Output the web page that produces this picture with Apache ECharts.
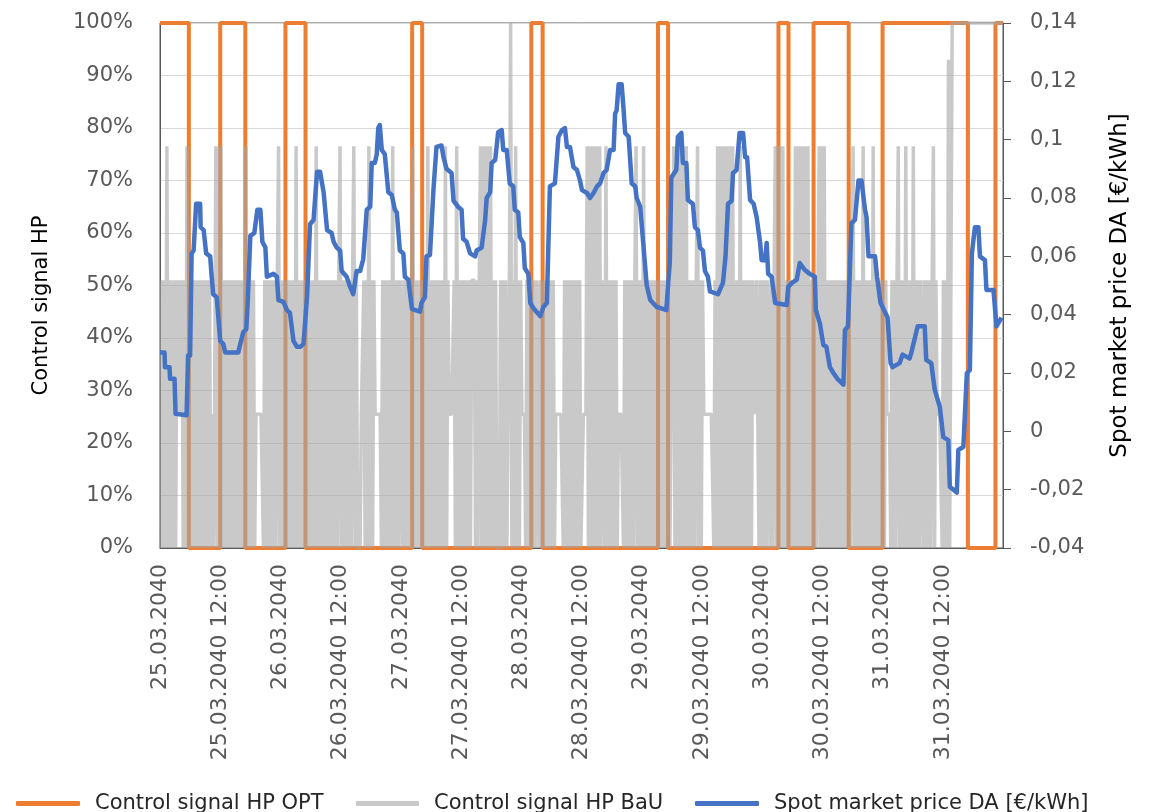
<!DOCTYPE html>
<html>
<head>
<meta charset="utf-8">
<script src="https://cdn.jsdelivr.net/npm/echarts@6/dist/echarts.min.js"></script>
<style>
html,body{margin:0;padding:0;background:#fff;}
#chart{width:1158px;height:812px;}
</style>
</head>
<body>
<div id="chart"></div>
<script>
// ---------- data ----------
// x-axis: hours since 25.03.2040 00:00
const tickLabels = ['25.03.2040','25.03.2040 12:00','26.03.2040','26.03.2040 12:00',
  '27.03.2040','27.03.2040 12:00','28.03.2040','28.03.2040 12:00','29.03.2040',
  '29.03.2040 12:00','30.03.2040','30.03.2040 12:00','31.03.2040','31.03.2040 12:00'];

// Control signal HP OPT: switching hours and the state that starts there
const optHours  = [0, 5.75, 12, 17, 25, 29, 50.25, 52.25, 74, 76.25, 99.25, 101.25, 123.25, 125.25, 130.25, 137.25, 144, 161, 166.5, 168];
const optStates = [1, 0,    1,  0,  1,  0,  1,     0,     1,  0,     1,     0,      1,      0,      1,      0,      1,   0,   1,     1];

// Control signal HP BaU: quarter-hour level codes, one string per 12 hours
const bauLevels = [0, 0.255, 0.51, 0.765, 1, 0.93];
const bauCodes = [
  '0202'+'030'+'2020202'+'1212'+'020'+'3'+'020202020202020202'+'0101'+'3030',
  '30'+'202020202020202020'+'3'+'0202020'+'111111'+'020202020202'+'3'+'0',
  '202020202020'+'3'+'020202020202020'+'3'+'020202020202020202'+'3',
  '0202020202'+'3'+'020'+'0011'+'2020'+'3'+'0202'+'11111'+'020202020'+'3'+'020202',
  '202020202'+'3'+'02020202020'+'3'+'0202020202020'+'3'+'02'+'1111'+'20'+'3'+'020',
  '202020202'+'22'+'0202'+'303030303'+'02020'+'00'+'202020'+'0'+'2'+'4'+'020'+'3'+'0202',
  '111'+'020202020'+'22'+'0202020202020'+'111111'+'020202020202020',
  '0'+'111'+'303030303030'+'020'+'3'+'020202020'+'1111'+'0202020202'+'3'+'0202',
  '0'+'3'+'020202020202020202020'+'11'+'303030303030'+'2020202'+'3'+'020',
  '2'+'11111111'+'020'+'3030303030303'+'02020'+'3'+'0202020202'+'2121'+'020',
  '2020'+'22'+'0202'+'3030303'+'020202020'+'303030303030'+'2020202'+'303',
  '03'+'0202020202020202020202'+'3'+'0202020'+'3'+'0202020'+'3'+'0202020',
  '202'+'111'+'020202'+'3'+'02020'+'3'+'02020'+'3'+'02020'+'22'+'02020202'+'3'+'02'+'1111'+'0',
  '2020'+'5'+'02'+'44444444444444444444444444444444444444444'
];

// Spot market price DA [€/kWh]: traced vertices (hour, price)
const priceHours = [0.0,0.9,1.0,1.9,2.0,2.9,3.1,5.3,5.6,6.0,6.3,6.7,7.2,8.0,8.1,8.7,9.2,10.0,10.3,10.6,11.3,12.0,12.6,13.0,15.6,16.0,16.6,17.2,17.5,18.0,18.8,19.4,20.0,20.4,21.0,21.3,22.6,23.3,23.6,24.6,25.3,25.9,26.6,27.3,28.0,28.6,29.3,29.9,30.6,31.3,31.9,32.6,32.9,33.3,34.2,34.6,35.2,35.9,36.2,37.2,37.9,38.5,39.2,39.9,40.5,41.2,41.9,42.2,42.8,43.2,43.5,43.8,44.2,44.8,45.5,46.2,46.8,47.2,47.8,48.5,48.8,49.5,50.2,51.8,52.1,52.8,53.1,53.8,54.5,54.8,55.1,56.1,56.5,57.1,58.1,58.5,59.4,60.1,60.4,61.1,61.8,62.8,63.1,64.1,64.8,65.1,65.8,66.1,66.8,67.4,68.1,68.4,69.1,69.7,70.4,70.7,71.4,71.7,72.4,72.7,73.4,73.8,74.5,75.8,76.4,77.1,77.7,78.7,79.4,80.1,80.7,81.1,81.7,82.4,83.1,83.7,84.1,85.1,85.7,86.4,87.1,87.7,88.4,89.0,89.7,90.4,90.7,91.0,91.4,92.0,92.4,92.7,93.4,94.0,94.7,95.0,95.7,96.3,97.0,97.7,99.0,99.6,100.9,101.6,101.9,102.9,103.2,103.9,104.2,104.9,105.2,106.2,106.6,107.2,107.6,108.2,108.6,109.2,109.6,111.2,112.2,112.7,113.2,113.9,114.2,114.9,115.5,116.2,116.6,117.0,117.6,118.3,118.9,119.6,119.9,120.6,120.9,121.2,121.9,122.6,124.9,125.2,126.0,126.9,127.5,128.5,129.5,130.5,130.7,131.5,132.2,132.8,133.5,134.2,135.0,136.2,136.5,137.1,137.8,138.5,139.2,139.8,140.5,140.8,141.2,142.5,142.9,143.6,145.0,145.6,146.0,147.4,148.0,149.4,149.7,151.0,152.4,152.7,153.7,154.4,155.4,156.1,157.1,157.4,158.8,159.1,160.1,160.8,161.4,161.8,162.4,163.1,163.4,164.4,164.7,166.1,166.7,167.7];
const priceValues = [0.027,0.027,0.022,0.022,0.018,0.018,0.006,0.0055,0.026,0.026,0.061,0.062,0.078,0.078,0.070,0.069,0.061,0.060,0.053,0.047,0.046,0.031,0.030,0.027,0.027,0.030,0.034,0.035,0.045,0.067,0.068,0.076,0.076,0.065,0.063,0.053,0.054,0.053,0.045,0.0444,0.0416,0.0406,0.031,0.029,0.029,0.030,0.046,0.071,0.0725,0.089,0.089,0.082,0.082,0.069,0.068,0.065,0.063,0.062,0.055,0.053,0.0495,0.047,0.055,0.055,0.059,0.076,0.077,0.092,0.092,0.095,0.104,0.105,0.0965,0.095,0.082,0.081,0.076,0.075,0.062,0.061,0.053,0.052,0.042,0.041,0.044,0.046,0.060,0.0605,0.083,0.083,0.0975,0.098,0.094,0.090,0.0886,0.079,0.077,0.076,0.066,0.065,0.061,0.060,0.062,0.063,0.0725,0.080,0.082,0.092,0.093,0.1026,0.1033,0.0965,0.0965,0.085,0.084,0.076,0.075,0.0666,0.0646,0.056,0.054,0.044,0.042,0.0395,0.0426,0.044,0.084,0.085,0.101,0.1033,0.104,0.0975,0.0975,0.0906,0.0896,0.086,0.0827,0.0817,0.080,0.0817,0.084,0.085,0.0886,0.0896,0.0965,0.0965,0.109,0.110,0.119,0.119,0.110,0.1023,0.101,0.085,0.084,0.080,0.077,0.0646,0.050,0.045,0.0426,0.0423,0.0416,0.058,0.087,0.0896,0.101,0.1023,0.092,0.092,0.0793,0.078,0.070,0.069,0.063,0.062,0.055,0.053,0.048,0.047,0.051,0.060,0.078,0.079,0.0886,0.0896,0.1023,0.1023,0.094,0.094,0.0793,0.078,0.0735,0.0646,0.0587,0.0587,0.0646,0.054,0.053,0.044,0.0433,0.0495,0.051,0.052,0.0577,0.0553,0.054,0.053,0.0416,0.037,0.0296,0.029,0.022,0.020,0.018,0.016,0.0347,0.036,0.0714,0.0725,0.086,0.086,0.076,0.0735,0.060,0.060,0.053,0.044,0.039,0.0234,0.022,0.0234,0.0263,0.025,0.0268,0.036,0.036,0.0245,0.0234,0.0142,0.0085,-0.002,-0.003,-0.019,-0.021,-0.0064,-0.0053,0.020,0.021,0.061,0.070,0.070,0.060,0.0587,0.0485,0.0485,0.036,0.039];

// ---------- build series data ----------
const optData = optHours.map((h, i) => [h, optStates[i]]);
const bauData = [];
bauCodes.forEach((line, k) => {
  for (let i = 0; i < line.length; i++) {
    bauData.push([k * 12 + (i + 0.5) / 4, bauLevels[+line[i]]]);
  }
});
const priceData = priceHours.map((h, i) => [h, priceValues[i]]);

const FONT = 'DejaVu Sans';
const chart = echarts.init(document.getElementById('chart'), null, {renderer: 'canvas'});
chart.setOption({
  animation: false,
  backgroundColor: '#ffffff',
  textStyle: {fontFamily: FONT},
  grid: {left: 160, right: 155, top: 23, bottom: 264, show: true, borderColor: '#595959', borderWidth: 1, containLabel: false},
  legend: [
    {data: ['Control signal HP OPT'], left: 11, top: 788, icon: 'roundRect', itemWidth: 64, itemHeight: 5,
     textStyle: {fontFamily: FONT, fontSize: 21, color: '#262626', padding: [0, 0, 0, 10]}},
    {data: ['Control signal HP BaU'], left: 351, top: 788, icon: 'roundRect', itemWidth: 63, itemHeight: 5,
     textStyle: {fontFamily: FONT, fontSize: 21, color: '#262626', padding: [0, 0, 0, 10]}},
    {data: ['Spot market price DA [€/kWh]'], left: 690, top: 788, icon: 'roundRect', itemWidth: 64, itemHeight: 5,
     textStyle: {fontFamily: FONT, fontSize: 21, color: '#262626', padding: [0, 0, 0, 10]}}
  ],
  xAxis: {
    type: 'value', min: 0, max: 168, interval: 12,
    axisLine: {show: true, lineStyle: {color: '#595959', width: 1}},
    axisTick: {show: false},
    splitLine: {show: false},
    axisLabel: {
      rotate: 90, margin: 16, fontSize: 22, color: '#595959', fontFamily: FONT,
      formatter: v => tickLabels[Math.round(v / 12)] || ''
    }
  },
  yAxis: [
    {
      type: 'value', min: 0, max: 1, interval: 0.1, position: 'left',
      name: 'Control signal HP', nameLocation: 'middle', nameRotate: 90, nameGap: 108,
      nameTextStyle: {fontSize: 21, color: '#000000', fontFamily: FONT, padding: [0, 40, 0, 0]},
      axisLine: {show: true, lineStyle: {color: '#595959', width: 1}},
      axisTick: {show: false},
      splitLine: {show: true, lineStyle: {color: '#d9d9d9', width: 1}},
      axisLabel: {margin: 27, fontSize: 21, color: '#595959', fontFamily: FONT,
        formatter: v => Math.round(v * 100) + '%'}
    },
    {
      type: 'value', min: -0.04, max: 0.14, interval: 0.02, position: 'right',
      name: 'Spot market price DA [€/kWh]', nameLocation: 'middle', nameRotate: 90, nameGap: 106,
      nameTextStyle: {fontSize: 23, color: '#000000', fontFamily: FONT},
      axisLine: {show: true, lineStyle: {color: '#595959', width: 1}},
      axisTick: {show: true, inside: false, length: 8, lineStyle: {color: '#595959'}},
      splitLine: {show: false},
      axisLabel: {margin: 27, fontSize: 21, color: '#595959', fontFamily: FONT,
        formatter: v => String(Math.round(v * 100) / 100).replace('.', ',')}
    }
  ],
  series: [
    {
      name: 'Control signal HP OPT', type: 'line', yAxisIndex: 0, data: optData, step: 'end',
      showSymbol: false, symbol: 'none', z: 2,
      lineStyle: {color: '#ED7D31', width: 4}, itemStyle: {color: '#ED7D31'}
    },
    {
      name: 'Control signal HP BaU', type: 'line', yAxisIndex: 0, data: bauData,
      showSymbol: false, symbol: 'none', z: 3,
      lineStyle: {color: 'rgba(165,165,165,0.6)', width: 3.5}, itemStyle: {color: '#c9c9c9'}
    },
    {
      name: 'Spot market price DA [€/kWh]', type: 'line', yAxisIndex: 1, data: priceData,
      showSymbol: false, symbol: 'none', z: 4,
      lineStyle: {color: '#4472C4', width: 4.5, join: 'round'}, itemStyle: {color: '#4472C4'}
    }
  ]
});
</script>
</body>
</html>
